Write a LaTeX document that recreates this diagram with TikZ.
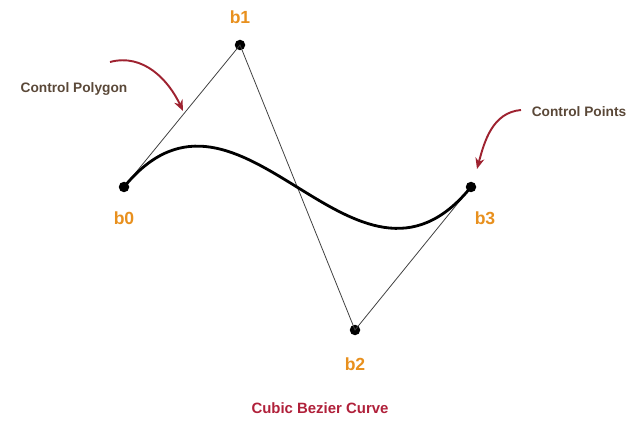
\documentclass[tikz,border=0pt]{standalone}
\usepackage{fontspec}
\setmainfont{Liberation Sans}
\usetikzlibrary{arrows.meta}
\definecolor{ptlabel}{HTML}{E8901E}
\definecolor{notetext}{HTML}{5A4838}
\definecolor{notearrow}{HTML}{9E2230}
\definecolor{titlered}{HTML}{B0203A}
\tikzset{
  ctrlpt/.style={circle, fill=black, inner sep=0pt, minimum size=0.21cm},
  ptname/.style={text=ptlabel, font=\bfseries\fontsize{10}{12}\selectfont},
  note/.style={text=notetext, font=\bfseries\fontsize{7.8}{9}\selectfont},
  notearr/.style={draw=notearrow, line width=1.1pt, -{Stealth[length=2.2mm,width=1.8mm]}},
  polygon/.style={draw=black!75, line width=0.45pt},
  bezier/.style={draw=black, line width=1.6pt}
}
\begin{document}
\begin{tikzpicture}[x=0.02cm, y=-0.02cm]
\useasboundingbox (0,0) rectangle (641,435);
\node[ctrlpt] (b0) at (124,187) {};
\node[ctrlpt] (b1) at (240,45) {};
\node[ctrlpt] (b2) at (355,330) {};
\node[ctrlpt] (b3) at (471,187) {};
\node[ptname] (l0) at (124,218) {b0};
\node[ptname] (l1) at (240,17) {b1};
\node[ptname] (l2) at (355,364) {b2};
\node[ptname] (l3) at (485,218) {b3};
\draw[polygon] (b0.center) -- (b1.center) -- (b2.center) -- (b3.center);
\draw[bezier] (b0.center) .. controls (b1.center) and (b2.center) .. (b3.center);
% notes
\node[note] (polynote) at (74,89) {Control Polygon};
\node[note] (ptsnote) at (579,112) {Control Points};
\coordinate (polystart) at (110,62);
\coordinate (polyend) at (183,111);
\coordinate (ptsstart) at (521,110);
\coordinate (ptsend) at (477,169);
\draw[notearr] (polystart) to[out=15, in=115] (polyend);
\draw[notearr] (ptsstart) to[out=185, in=75] (ptsend);
\node[text=titlered, font=\bfseries\fontsize{8.5}{10}\selectfont] (title) at (320,408) {Cubic Bezier Curve};
\end{tikzpicture}
\end{document}
